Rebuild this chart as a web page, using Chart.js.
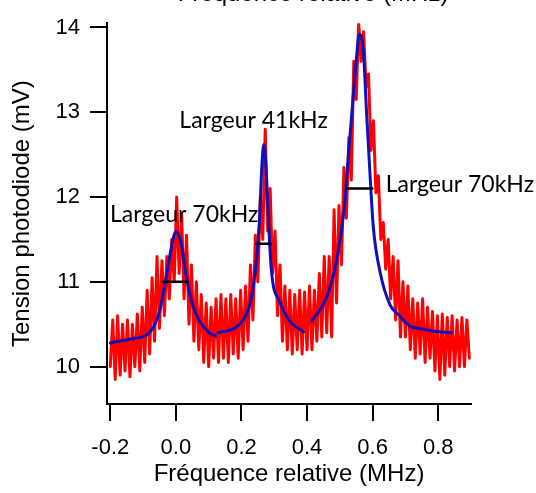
<!DOCTYPE html>
<html>
<head>
<meta charset="utf-8">
<script src="https://cdn.jsdelivr.net/npm/chart.js@4.4.1/dist/chart.umd.min.js"></script>
<style>
  html, body { margin: 0; padding: 0; background: #fff; }
</style>
</head>
<body>
<canvas id="graphe" width="536" height="493"></canvas>
<script>
// signal mesuré (mV), un point tous les 7.5 kHz à partir de -0.2 MHz
const freqDebut = -0.2;
const freqPas = 0.0075;
const tension = [
  10.00, 10.55, 9.85, 10.60, 9.90, 10.50, 9.95, 10.55, 9.88, 10.50,
  10.00, 10.62, 9.95, 10.70, 10.05, 10.90, 10.15, 11.05, 10.30, 11.30,
  10.45, 11.25, 10.60, 11.30, 10.80, 11.50, 11.00, 12.00, 11.10, 11.80,
  10.80, 11.55, 10.50, 11.20, 10.30, 11.00, 10.20, 10.85, 10.05, 10.75,
  10.00, 10.70, 10.10, 10.80, 10.05, 10.85, 10.10, 10.80, 10.05, 10.85,
  10.15, 10.80, 10.10, 10.90, 10.20, 10.95, 10.30, 11.20, 10.55, 11.55,
  11.00, 12.00, 11.50, 12.80, 11.60, 12.10, 11.10, 11.60, 10.60, 11.20,
  10.30, 10.95, 10.20, 10.90, 10.15, 10.85, 10.20, 10.90, 10.15, 10.88,
  10.20, 10.95, 10.20, 10.90, 10.30, 11.10, 10.35, 11.30, 10.40, 11.30,
  10.35, 11.85, 10.75, 11.90, 11.20, 12.35, 11.75, 12.70, 12.20, 13.60,
  13.15, 14.05, 13.60, 13.95, 13.30, 13.45, 12.55, 12.90, 12.05, 12.25,
  11.50, 11.70, 11.15, 11.50, 10.80, 11.30, 10.55, 11.25, 10.35, 11.00,
  10.35, 10.95, 10.20, 10.80, 10.10, 10.75, 10.15, 10.80, 10.05, 10.70,
  10.10, 10.65, 9.95, 10.60, 9.85, 10.62, 9.90, 10.58, 10.00, 10.60,
  9.95, 10.55, 10.00, 10.58, 10.00, 10.55, 10.10
];

// ajustements lorentziens [MHz, mV]
const ajust1 = [[-0.2, 10.28], [-0.132, 10.33], [-0.081, 10.40], [-0.05, 10.65], [-0.03, 11.04],
  [-0.015, 11.38], [0.0, 11.59], [0.016, 11.46], [0.031, 11.08], [0.051, 10.73],
  [0.072, 10.54], [0.102, 10.40], [0.121, 10.36]];
const ajust2 = [[0.128, 10.40], [0.194, 10.50], [0.230, 10.81], [0.245, 11.23], [0.255, 11.73],
  [0.262, 12.35], [0.268, 12.62], [0.275, 12.35], [0.280, 11.92], [0.291, 11.15],
  [0.316, 10.77], [0.347, 10.54], [0.389, 10.41]];
const ajust3 = [[0.415, 10.54], [0.459, 10.81], [0.489, 11.23], [0.515, 11.92], [0.52, 12.19],
  [0.536, 12.96], [0.551, 13.65], [0.559, 13.92], [0.571, 13.76], [0.582, 12.96],
  [0.592, 12.27], [0.602, 11.65], [0.623, 11.11], [0.653, 10.73], [0.682, 10.60],
  [0.713, 10.48], [0.743, 10.45], [0.783, 10.42], [0.840, 10.40]];

// largeurs à mi-hauteur
const largeur1 = [[-0.038, 11.0], [0.035, 11.0]];
const largeur2 = [[0.245, 11.45], [0.29, 11.45]];
const largeur3 = [[0.52, 12.1], [0.599, 12.1]];

const ticksX = [-0.2, 0.0, 0.2, 0.4, 0.6, 0.8];
const ticksY = [10, 11, 12, 13, 14];

const pts = arr => arr.map(p => ({ x: p[0], y: p[1] }));
const signal = tension.map((v, i) => ({ x: freqDebut + i * freqPas, y: v }));

const police = '"Liberation Sans", Arial, sans-serif';

const notes = {
  id: 'notes',
  afterDatasetsDraw(chart) {
    const c = chart.ctx;
    const sx = chart.scales.x, sy = chart.scales.y;
    c.save();
    c.fillStyle = '#000';
    c.font = '23px Lato';
    c.textBaseline = 'alphabetic';
    c.textAlign = 'left';
    [['Largeur 70kHz', -0.201, 11.71], ['Largeur 41kHz', 0.0107, 12.81], ['Largeur 70kHz', 0.6397, 12.06]]
      .forEach(n => c.fillText(n[0], sx.getPixelForValue(n[1]), sy.getPixelForValue(n[2])));
    // titre de l'axe du haut, coupé par le cadrage
    c.font = '24px ' + police;
    c.textAlign = 'center';
    c.fillText('Fréquence relative (MHz)', 313, 1);
    c.restore();
  }
};

const ctx = document.getElementById('graphe').getContext('2d');

const graphe = new Chart(ctx, {
  type: 'line',
  data: {
    datasets: [
      { data: pts(largeur1), borderColor: '#000', borderWidth: 2.5 },
      { data: pts(largeur2), borderColor: '#000', borderWidth: 2.5 },
      { data: pts(largeur3), borderColor: '#000', borderWidth: 2.5 },
      { data: pts(ajust1), borderColor: '#1010b8', borderWidth: 3, cubicInterpolationMode: 'monotone' },
      { data: pts(ajust2), borderColor: '#1010b8', borderWidth: 3, cubicInterpolationMode: 'monotone' },
      { data: pts(ajust3), borderColor: '#1010b8', borderWidth: 3, cubicInterpolationMode: 'monotone' },
      { data: signal, borderColor: '#ff0000', borderWidth: 3 }
    ]
  },
  options: {
    responsive: false,
    animation: false,
    devicePixelRatio: 1,
    layout: { padding: { top: 15, right: 65, left: 0, bottom: 0 } },
    elements: {
      point: { radius: 0 },
      line: { tension: 0, fill: false, borderJoinStyle: 'round', borderCapStyle: 'round' }
    },
    plugins: {
      legend: { display: false },
      tooltip: { enabled: false }
    },
    scales: {
      x: {
        type: 'linear',
        min: -0.21,
        max: 0.9,
        afterBuildTicks: s => { s.ticks = ticksX.map(v => ({ value: v })); },
        afterFit: s => { s.height = 89; },
        grid: { drawOnChartArea: false, drawTicks: true, tickLength: 17, color: '#000', lineWidth: 2 },
        border: { display: true, color: '#000', width: 2 },
        ticks: {
          color: '#000',
          padding: 14,
          maxRotation: 0,
          font: { family: police, size: 22 },
          callback: v => v.toFixed(1)
        },
        title: {
          display: true,
          text: 'Fréquence relative (MHz)',
          color: '#000',
          font: { family: police, size: 24 },
          padding: { top: 0, bottom: 4 }
        }
      },
      y: {
        min: 9.56,
        max: 14.05,
        afterBuildTicks: s => { s.ticks = ticksY.map(v => ({ value: v })); },
        afterFit: s => { s.width = 107; },
        grid: { drawOnChartArea: false, drawTicks: true, tickLength: 17, color: '#000', lineWidth: 2 },
        border: { display: true, color: '#000', width: 2 },
        ticks: {
          color: '#000',
          padding: 10,
          font: { family: police, size: 22 }
        },
        title: {
          display: true,
          text: 'Tension photodiode (mV)',
          color: '#000',
          font: { family: police, size: 24 },
          padding: { top: 8, bottom: 0 }
        }
      }
    }
  },
  plugins: [notes]
});
</script>
</body>
</html>
